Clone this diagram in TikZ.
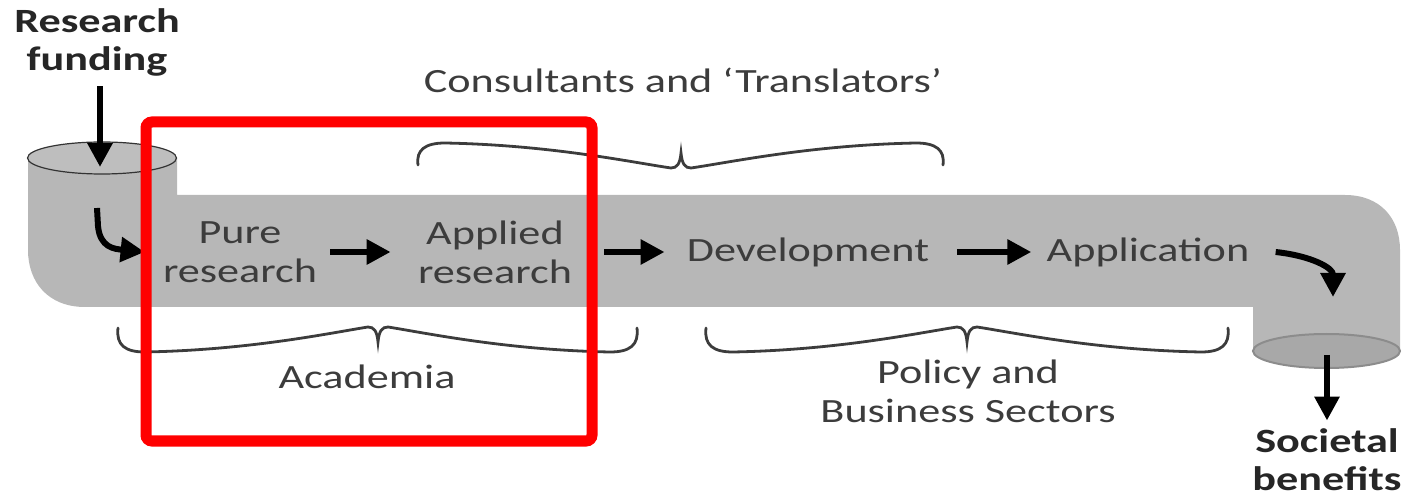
\documentclass[tikz,border=0pt]{standalone}
\usepackage{fontspec}
\newfontfamily\labelfont[FakeStretch=1.3]{Carlito}
\usetikzlibrary{arrows.meta}
\definecolor{pipegray}{RGB}{183,183,183}
\definecolor{capgray}{RGB}{190,190,190}
\definecolor{outgray}{RGB}{168,168,168}
\definecolor{inkgray}{RGB}{60,60,60}
\definecolor{boxred}{RGB}{255,0,0}
\tikzset{
  lbl/.style={font=\labelfont\fontsize{17}{19.5}\selectfont, text=inkgray, align=center, inner sep=0pt},
  headlbl/.style={lbl, font=\labelfont\bfseries\fontsize{17}{19}\selectfont, text=black!85},
  flow/.style={line width=3pt, -{Triangle[length=12pt,width=12pt]}},
  brace/.style={line width=1.4pt, draw=inkgray, line cap=round},
}
\begin{document}
\begin{tikzpicture}[x=0.5pt,y=-0.5pt]
\useasboundingbox (0,0) rectangle (1404,497);
% the pipe
\fill[pipegray] (28,158) -- (28,250) .. controls (28,282) and (48,307) .. (85,307) -- (1253,307)
   -- (1253,351) -- (1400,351) -- (1400,250) .. controls (1400,218) and (1380,195) .. (1345,195)
   -- (177,195) -- (177,158) -- cycle;
\draw[fill=capgray,draw=black!80,line width=0.6pt] (102,158) ellipse [x radius=37.25pt,y radius=8pt];
\draw[fill=outgray,draw=black!45,line width=1pt] (1326.5,351) ellipse [x radius=36.75pt,y radius=8.5pt];
% labels
\node[headlbl] (funding) at (97,42) {Research\\funding};
\node[lbl] (pure) at (240,252) {Pure\\research};
\node[lbl] (applied) at (495,252) {Applied\\research};
\node[lbl] (devel) at (808,252) {Development};
\node[lbl] (applic) at (1148,252) {Application};
\node[lbl] (consult) at (683,80) {Consultants and ‘Translators’};
\node[lbl] (academia) at (367,377) {Academia};
\node[lbl] (policy) at (968,391) {Policy and\\Business Sectors};
\node[headlbl] (benefits) at (1327,460) {Societal\\benefits};
\coordinate (inlet) at (100,167);
\coordinate (turnin) at (97,208);
\coordinate (turnout) at (1333,297);
\coordinate (outlet) at (1327,355);
% flow arrows
\draw[flow,shorten <=5pt] (funding.south -| inlet) -- (inlet);
\draw[flow] (turnin) -- (98,226) .. controls (100,248) and (115,249) .. ([xshift=-9pt]pure.west);
\draw[flow] ([xshift=6.5pt]pure.east) -- ([xshift=-13.5pt]applied.west);
\draw[flow] ([xshift=16pt]applied.east) -- ([xshift=-11pt]devel.west);
\draw[flow] ([xshift=14pt]devel.east) -- ([xshift=-7.5pt]applic.west);
\draw[flow] ([xshift=13pt]applic.east) .. controls (1312,256) and (1333,268) .. (turnout);
\draw[flow,shorten >=4pt] (outlet) -- (benefits.north -| outlet);
% braces
\draw[brace] (418,165) .. controls (416,150) and (425,143) .. (445,143) .. controls (550,145) and (630,162) .. (671,168)
   .. controls (677,168) and (680,164) .. (681,153) .. controls (682,164) and (685,168) .. (691,168)
   .. controls (732,162) and (812,145) .. (916,143) .. controls (936,143) and (945,150) .. (943,165);
\draw[brace] (118,328) .. controls (116,345) and (125,352) .. (145,352) .. controls (250,350) and (330,333) .. (368,327)
   .. controls (374,327) and (377,331) .. (378,342) .. controls (379,331) and (382,327) .. (388,327)
   .. controls (426,333) and (506,350) .. (610,352) .. controls (630,352) and (639,345) .. (637,328);
\draw[brace] (706,328) .. controls (704,345) and (713,352) .. (733,352) .. controls (838,350) and (918,333) .. (957,327)
   .. controls (963,327) and (966,331) .. (967,342) .. controls (968,331) and (971,327) .. (977,327)
   .. controls (1016,333) and (1096,350) .. (1201,352) .. controls (1221,352) and (1230,345) .. (1228,328);
% highlight box
\draw[boxred,line width=5.5pt,rounded corners=3pt] (146,122) rectangle (592,441);
\end{tikzpicture}
\end{document}
